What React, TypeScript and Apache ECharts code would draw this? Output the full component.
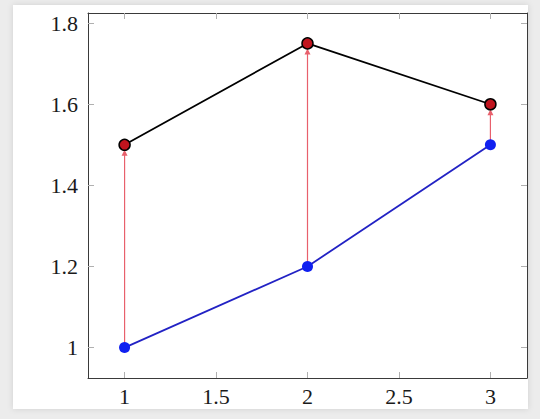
import React, { useEffect, useRef } from "react";
import * as echarts from "echarts";

const xValues = [1, 2, 3];
const lowerValues = [1, 1.2, 1.5];
const upperValues = [1.5, 1.75, 1.6];
const xTicks = [1, 1.5, 2, 2.5, 3];
const yTicks = [1, 1.2, 1.4, 1.6, 1.8];

const FONT = "'Liberation Serif', 'DejaVu Serif', serif";

export default function App() {
  const ref = useRef<HTMLDivElement>(null);
  useEffect(() => {
    document.body.style.margin = "0";
    const chart = echarts.init(ref.current!, null, { renderer: "svg" });
    const lower = xValues.map((x, i) => [x, lowerValues[i]]);
    const upper = xValues.map((x, i) => [x, upperValues[i]]);
    const arrows = xValues.map((x, i) => [x, lowerValues[i], upperValues[i]]);
    const tickStyle = { show: true, inside: true, length: 6, lineStyle: { color: "#b0b0b0", width: 1 } };
    const lineStyle = { show: true, onZero: false, lineStyle: { color: "#3a3a3a", width: 1 } };
    const label = { fontFamily: FONT, fontSize: 22, color: "#1a1a1a" };
    chart.setOption({
      animation: false,
      backgroundColor: "#ececec",
      graphic: [
        {
          type: "rect",
          z: -10,
          shape: { x: 13, y: 5, width: 515, height: 404 },
          style: { fill: "#ffffff", shadowBlur: 6, shadowColor: "rgba(0,0,0,0.12)" },
        },
      ],
      grid: { left: 88, right: 13, top: 13, bottom: 41 },
      xAxis: [
        {
          type: "value",
          min: 0.8,
          max: 3.2,
          axisLine: lineStyle,
          axisTick: { ...tickStyle, customValues: xTicks },
          axisLabel: { ...label, margin: 7, customValues: xTicks, formatter: (v: number) => String(v) },
          splitLine: { show: false },
        },
        {
          type: "value",
          position: "top",
          min: 0.8,
          max: 3.2,
          axisLine: lineStyle,
          axisTick: { ...tickStyle, customValues: xTicks },
          axisLabel: { show: false },
          splitLine: { show: false },
        },
      ],
      yAxis: [
        {
          type: "value",
          min: 0.925,
          max: 1.825,
          axisLine: lineStyle,
          axisTick: { ...tickStyle, customValues: yTicks },
          axisLabel: { ...label, margin: 10, customValues: yTicks, formatter: (v: number) => String(v) },
          splitLine: { show: false },
        },
        {
          type: "value",
          position: "right",
          min: 0.925,
          max: 1.825,
          axisLine: lineStyle,
          axisTick: { ...tickStyle, customValues: yTicks },
          axisLabel: { show: false },
          splitLine: { show: false },
        },
      ],
      series: [
        {
          type: "custom",
          z: 1,
          data: arrows,
          renderItem: (params: any, api: any) => {
            const x = api.value(0);
            const s = api.coord([x, api.value(1)]);
            const e = api.coord([x, api.value(2)]);
            const tipY = e[1] + 5;
            const headLen = 6;
            const color = "#e8606c";
            return {
              type: "group",
              children: [
                {
                  type: "line",
                  shape: { x1: s[0], y1: s[1], x2: s[0], y2: tipY + headLen - 1 },
                  style: { stroke: color, lineWidth: 1.2 },
                },
                {
                  type: "polygon",
                  shape: { points: [[e[0], tipY], [e[0] - 3, tipY + headLen], [e[0] + 3, tipY + headLen]] },
                  style: { fill: color },
                },
              ],
            };
          },
        },
        {
          type: "line",
          z: 3,
          data: lower,
          symbol: "circle",
          symbolSize: 11,
          lineStyle: { color: "#2222c4", width: 1.8 },
          itemStyle: { color: "#1020f0", borderWidth: 0 },
        },
        {
          type: "line",
          z: 3,
          data: upper,
          symbol: "circle",
          symbolSize: 11,
          lineStyle: { color: "#000000", width: 1.8 },
          itemStyle: { color: "#c0141e", borderColor: "#000000", borderWidth: 1.5 },
        },
      ],
    });
    return () => chart.dispose();
  }, []);
  return <div ref={ref} style={{ width: 540, height: 419 }} />;
}
